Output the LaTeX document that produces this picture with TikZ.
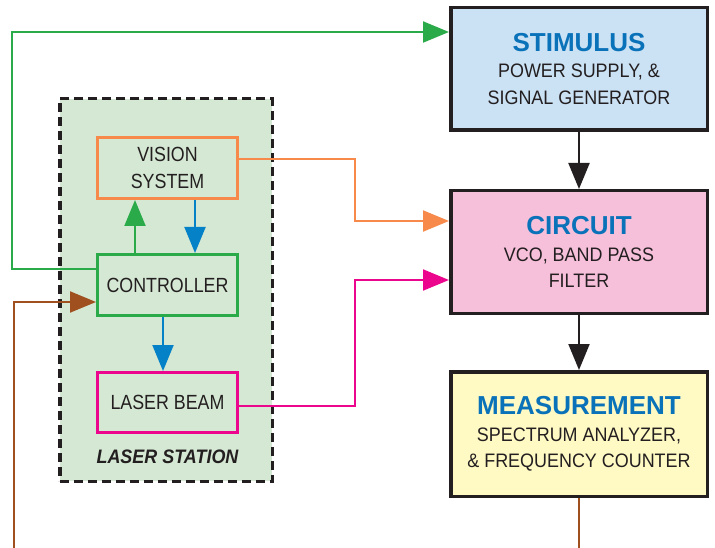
\documentclass[tikz,border=0pt]{standalone}
\usepackage{fontspec}
\setmainfont{Liberation Sans}
\newfontfamily\condA[FakeStretch=0.87]{Liberation Sans}
\newfontfamily\condB[FakeStretch=0.92]{Liberation Sans}
\usetikzlibrary{arrows.meta}
\definecolor{cgreen}{HTML}{2BAA4A}
\definecolor{ctitle}{HTML}{0A72B9}
\definecolor{corange}{HTML}{F7894A}
\definecolor{cpink}{HTML}{EC068D}
\definecolor{cbrown}{HTML}{A0501E}
\definecolor{cblue}{HTML}{0581C7}
\definecolor{fstim}{HTML}{CBE1F4}
\definecolor{fcirc}{HTML}{F7C0DA}
\definecolor{fmeas}{HTML}{FFF9C4}
\definecolor{flaser}{HTML}{D5E8D3}
\definecolor{cdark}{HTML}{231F20}
\newcommand{\boxtitle}{\fontsize{26}{26.5}\selectfont\rmfamily\bfseries\color{ctitle}}
\begin{document}
\begin{tikzpicture}[x=1pt,y=-1pt,
  bigbox/.style={draw=cdark,line width=3.5pt,minimum width=256.5pt,minimum height=122.5pt,
     align=center,text=cdark,font=\condB\fontsize{19.5}{26.5}\selectfont,inner sep=0pt},
  smallbox/.style={draw,line width=3pt,minimum width=140pt,minimum height=61pt,
     align=center,text=cdark,font=\condA\fontsize{20.5}{27}\selectfont,inner sep=0pt},
  conn/.style={line width=2pt},
  tip/.style={-{Triangle[length=26pt,width=21pt]}},
]
\useasboundingbox (0,0) rectangle (715,548);
% laser station
\node[draw=cdark,fill=flaser,line width=3.5pt,dash pattern=on 9pt off 5pt,
      minimum width=212.5pt,minimum height=382.5pt,inner sep=0pt] (station) at (166,290) {};
\node[font=\condB\fontsize{19.5}{20}\selectfont\bfseries\itshape,text=cdark] (stationlbl) at (167.5,457) {LASER STATION};
% right boxes
\node[bigbox,fill=fstim] (stim) at (579,69) {{\boxtitle STIMULUS}\\POWER SUPPLY, \&\\SIGNAL GENERATOR};
\node[bigbox,fill=fcirc] (circ) at (579,252) {{\boxtitle CIRCUIT}\\VCO, BAND PASS\\FILTER};
\node[bigbox,fill=fmeas,minimum height=124.5pt] (meas) at (579,434) {{\boxtitle MEASUREMENT}\\SPECTRUM ANALYZER,\\\& FREQUENCY COUNTER};
% inner boxes
\node[smallbox,draw=corange] (vision) at (167.5,168) {VISION\\SYSTEM};
\node[smallbox,draw=cgreen] (ctrl) at (167.5,285) {CONTROLLER};
\node[smallbox,draw=cpink,minimum height=60pt] (beam) at (167.5,402.5) {LASER BEAM};
% coordinates
\coordinate (g1) at (12,269);
\coordinate (g2) at (12,32);
\coordinate (o1) at (355,159);
\coordinate (o2) at (355,221);
\coordinate (p1) at (355,406);
\coordinate (p2) at (355,280);
\coordinate (b1) at (14,548);
\coordinate (b2) at (14,302);
\coordinate (mb) at (580,548);
\coordinate (xg) at (135,0);
\coordinate (xb) at (195,0);
\coordinate (xc) at (163,0);
% connectors
\draw[conn,cgreen,tip] (ctrl.west |- g1) -- (g1) -- (g2) -- (stim.west |- g2);
\draw[conn,corange,tip] (vision.east |- o1) -- (o1) -- (o2) -- (circ.west |- o2);
\draw[conn,cpink,tip] (beam.east |- p1) -- (p1) -- (p2) -- (circ.west |- p2);
\draw[conn,cbrown,tip] (b1) -- (b2) -- (ctrl.west |- b2);
\draw[conn,cbrown] (meas.south) -- (meas.south |- mb);
\draw[conn,cgreen,tip] (ctrl.north -| xg) -- (vision.south -| xg);
\draw[conn,cblue,tip] (vision.south -| xb) -- (ctrl.north -| xb);
\draw[conn,cblue,tip] (ctrl.south -| xc) -- (beam.north -| xc);
\draw[conn,cdark,tip] (stim.south) -- (circ.north);
\draw[conn,cdark,tip] (circ.south) -- (meas.north);
\end{tikzpicture}
\end{document}
